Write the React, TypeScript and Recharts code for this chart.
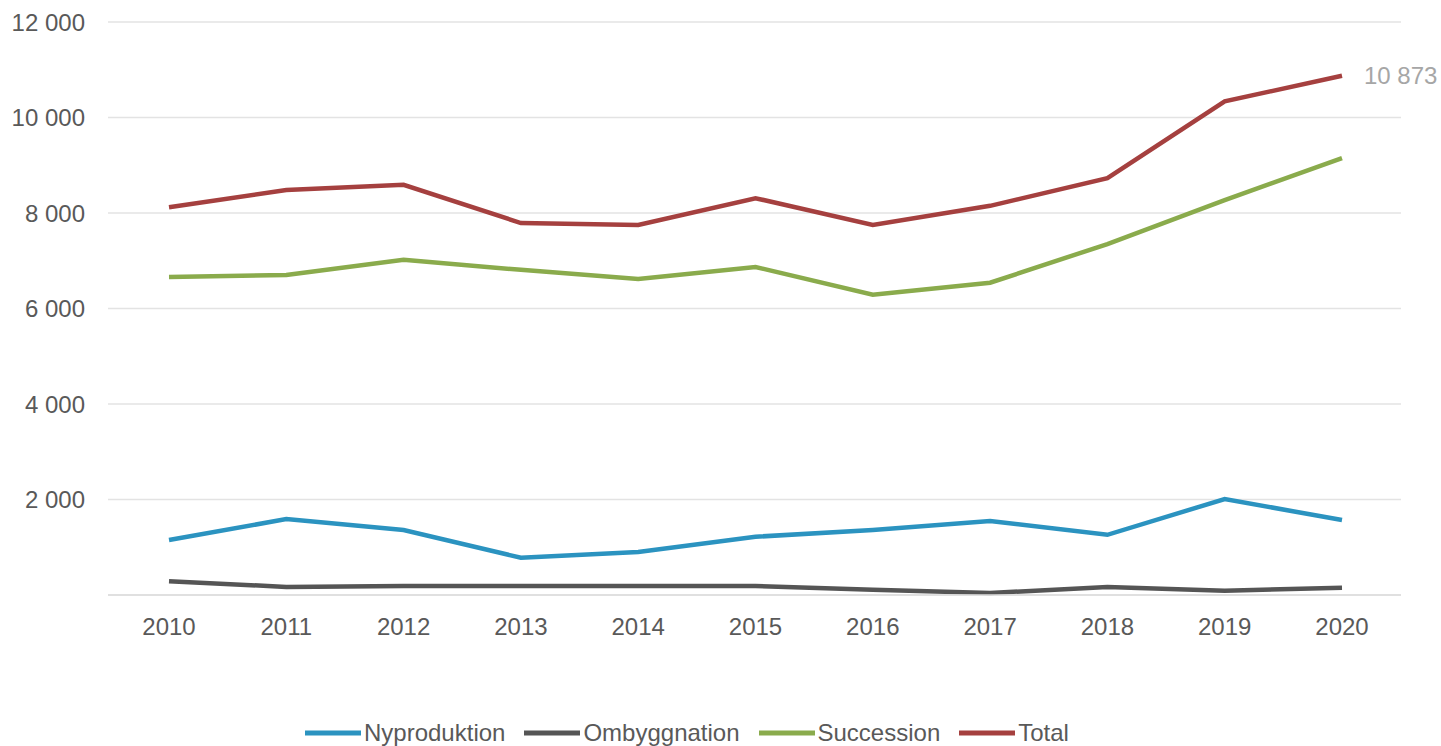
import React from 'react'
import { CartesianGrid, Legend, Line, LineChart, XAxis, YAxis } from 'recharts';

const years = ['2010', '2011', '2012', '2013', '2014', '2015', '2016', '2017', '2018', '2019', '2020'];
const nyproduktion = [1150, 1590, 1360, 780, 900, 1220, 1360, 1550, 1260, 2010, 1570];
const ombyggnation = [290, 170, 190, 190, 190, 190, 110, 40, 170, 90, 150];
const succession = [6660, 6700, 7020, 6810, 6620, 6870, 6290, 6540, 7350, 8270, 9150];
const total = [8120, 8480, 8590, 7790, 7750, 8310, 7750, 8150, 8730, 10340, 10873];
const yTicks = [0, 2000, 4000, 6000, 8000, 10000, 12000];

const series = [
  { key: 'Nyproduktion', values: nyproduktion, color: '#2b93c0' },
  { key: 'Ombyggnation', values: ombyggnation, color: '#555555' },
  { key: 'Succession', values: succession, color: '#8aab4c' },
  { key: 'Total', values: total, color: '#a5403f' },
];

const data = years.map((year, i) => {
  const row: any = { year };
  series.forEach(s => { row[s.key] = s.values[i]; });
  return row;
});

const FONT = '"Liberation Sans", Arial, sans-serif';
const TEXT = '#595959';

const fmt = (v: number) => (v === 0 ? '' : String(v).replace(/\B(?=(\d{3})+(?!\d))/g, ' '));

const LastLabel = (props: any) => {
  const { x, y, index, value } = props;
  if (index !== years.length - 1) return null;
  return (
    <text x={x + 22} y={y} fill="#a6a6a6" fontSize={24} fontFamily={FONT} dominantBaseline="central">
      {fmt(value)}
    </text>
  );
};

const LegendContent = () => (
  <div style={{ display: 'flex', alignItems: 'center', height: 26, paddingLeft: 305, fontFamily: FONT, fontSize: 24, color: TEXT }}>
    {series.map(s => (
      <div key={s.key} style={{ display: 'flex', alignItems: 'center', marginRight: 19 }}>
        <svg width={56} height={10} style={{ marginRight: 3 }}>
          <line x1={0} y1={5} x2={56} y2={5} stroke={s.color} strokeWidth={5} />
        </svg>
        <span>{s.key}</span>
      </div>
    ))}
  </div>
);

export default function App() {
  return (
    <div style={{ position: 'absolute', left: 0, top: 0, background: '#fff' }}>
      <LineChart width={1441} height={746} data={data} margin={{ top: 22, right: 40, bottom: 0, left: 0 }}>
        <CartesianGrid vertical={false} stroke="#e3e3e3" strokeWidth={1.5} />
        <XAxis
          dataKey="year"
          height={125}
          padding={{ left: 61, right: 59 }}
          axisLine={{ stroke: '#dcdcdc', strokeWidth: 1.5 }}
          tickLine={false}
          tickSize={0}
          tickMargin={23}
          tick={{ fill: TEXT, fontSize: 24, fontFamily: FONT }}
        />
        <YAxis
          width={108}
          domain={[0, 12000]}
          ticks={yTicks}
          interval={0}
          axisLine={false}
          tickLine={false}
          tickSize={0}
          tickMargin={23}
          tickFormatter={fmt}
          tick={{ fill: TEXT, fontSize: 24, fontFamily: FONT }}
        />
        <Legend verticalAlign="bottom" content={<LegendContent />} />
        {series.map(s => (
          <Line
            key={s.key}
            type="linear"
            dataKey={s.key}
            stroke={s.color}
            strokeWidth={4.5}
            dot={false}
            activeDot={false}
            isAnimationActive={false}
            label={s.key === 'Total' ? <LastLabel /> : false}
          />
        ))}
      </LineChart>
    </div>
  );
}
